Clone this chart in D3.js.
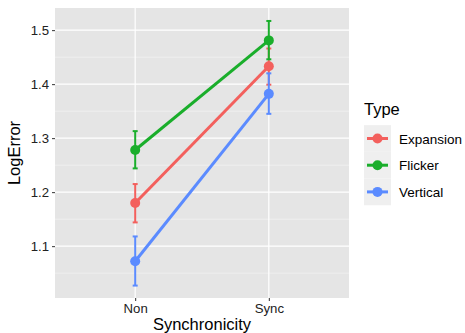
<!DOCTYPE html>
<html>
<head>
<meta charset="utf-8">
<script src="https://cdn.jsdelivr.net/npm/d3@7"></script>
<style>
  body { margin: 0; background: #fff; }
  text { font-family: "Liberation Sans", Arial, sans-serif; }
</style>
</head>
<body>
<div id="chart"></div>
<script>
// Data
const conditions = ['Non', 'Sync'];
const types = ['Expansion', 'Flicker', 'Vertical'];
const colors = ['#F3605D', '#1AAE2B', '#5B8BFF'];
const means = [[1.180, 1.433], [1.278, 1.481], [1.072, 1.382]];
const lower = [[1.144, 1.399], [1.244, 1.446], [1.027, 1.345]];
const upper = [[1.215, 1.466], [1.313, 1.517], [1.118, 1.420]];
const yTicks = [1.1, 1.2, 1.3, 1.4, 1.5];
const yMinor = [1.05, 1.15, 1.25, 1.35, 1.45];

const W = 465, H = 333;
const panel = {left: 55, right: 349, top: 8, bottom: 298};
const pw = panel.right - panel.left;

let svg = d3.select('#chart').append('svg')
    .attr('width', W)
    .attr('height', H);

// Scales (discrete x with ggplot's 0.6 expansion on each side)
let xScale = d3.scalePoint()
    .domain(conditions)
    .range([panel.left + 0.6 / 2.2 * pw, panel.left + 1.6 / 2.2 * pw]);

let yScale = d3.scaleLinear()
    .domain([1.004, 1.541])
    .range([panel.bottom, panel.top]);

// Panel background
svg.append('rect')
    .attr('x', panel.left)
    .attr('y', panel.top)
    .attr('width', pw)
    .attr('height', panel.bottom - panel.top)
    .attr('fill', '#E5E5E5');

// Grid lines
svg.selectAll('.minor').data(yMinor).enter().append('line')
    .attr('x1', panel.left).attr('x2', panel.right)
    .attr('y1', d => yScale(d)).attr('y2', d => yScale(d))
    .attr('stroke', '#F5F5F5').attr('stroke-width', 0.6);

svg.selectAll('.major').data(yTicks).enter().append('line')
    .attr('x1', panel.left).attr('x2', panel.right)
    .attr('y1', d => yScale(d)).attr('y2', d => yScale(d))
    .attr('stroke', '#fff').attr('stroke-width', 1.2);

svg.selectAll('.vmajor').data(conditions).enter().append('line')
    .attr('x1', d => xScale(d)).attr('x2', d => xScale(d))
    .attr('y1', panel.top).attr('y2', panel.bottom)
    .attr('stroke', '#fff').attr('stroke-width', 1.2);

// Axes
let yAxis = svg.append('g')
    .attr('transform', `translate(${panel.left},0)`)
    .call(d3.axisLeft(yScale).tickValues(yTicks).tickSize(3).tickPadding(3).tickFormat(d3.format('.1f')));
let xAxis = svg.append('g')
    .attr('transform', `translate(0,${panel.bottom})`)
    .call(d3.axisBottom(xScale).tickSize(3).tickPadding(3));

[yAxis, xAxis].forEach(ax => {
    ax.select('.domain').remove();
    ax.selectAll('line').attr('stroke', '#333').attr('stroke-width', 1);
    ax.selectAll('text').attr('fill', '#222').attr('font-size', '13.2px')
        .attr('font-family', '"Liberation Sans", Arial, sans-serif');
});

// Axis titles
svg.append('text')
    .attr('x', (panel.left + panel.right) / 2)
    .attr('y', 330)
    .attr('text-anchor', 'middle')
    .attr('font-size', '16.5px')
    .attr('fill', '#000')
    .text('Synchronicity');

svg.append('text')
    .attr('transform', `translate(20,${(panel.top + panel.bottom) / 2}) rotate(-90)`)
    .attr('text-anchor', 'middle')
    .attr('font-size', '16.5px')
    .attr('fill', '#000')
    .text('LogError');

// Lines, error bars, points
let line = d3.line()
    .x((d, i) => xScale(conditions[i]))
    .y(d => yScale(d));

for (let t = 0; t < types.length; t++) {
    let g = svg.append('g');
    // error bars
    conditions.forEach((c, i) => {
        let x = xScale(c);
        g.append('line')
            .attr('x1', x).attr('x2', x)
            .attr('y1', yScale(lower[t][i])).attr('y2', yScale(upper[t][i]))
            .attr('stroke', colors[t]).attr('stroke-width', 2);
        [lower[t][i], upper[t][i]].forEach(v => {
            g.append('line')
                .attr('x1', x - 2.5).attr('x2', x + 2.5)
                .attr('y1', yScale(v)).attr('y2', yScale(v))
                .attr('stroke', colors[t]).attr('stroke-width', 2);
        });
    });
    g.append('path')
        .datum(means[t])
        .attr('d', line)
        .attr('fill', 'none')
        .attr('stroke', colors[t])
        .attr('stroke-width', 3);
    g.selectAll('circle').data(means[t]).enter().append('circle')
        .attr('cx', (d, i) => xScale(conditions[i]))
        .attr('cy', d => yScale(d))
        .attr('r', 5)
        .attr('fill', colors[t]);
}

// Legend
let legend = svg.append('g');
legend.append('text')
    .attr('x', 364)
    .attr('y', 115)
    .attr('font-size', '16.5px')
    .attr('fill', '#000')
    .text('Type');

types.forEach((t, i) => {
    let cy = 138.5 + i * 26.7;
    legend.append('rect')
        .attr('x', 364).attr('y', cy - 13.35)
        .attr('width', 27).attr('height', 26.7)
        .attr('fill', '#EFEFEF');
    legend.append('line')
        .attr('x1', 367).attr('x2', 388)
        .attr('y1', cy).attr('y2', cy)
        .attr('stroke', colors[i]).attr('stroke-width', 3);
    legend.append('circle')
        .attr('cx', 377.5).attr('cy', cy).attr('r', 5)
        .attr('fill', colors[i]);
    legend.append('text')
        .attr('x', 399)
        .attr('y', cy + 5)
        .attr('font-size', '13.5px')
        .attr('fill', '#000')
        .text(t);
});
</script>
</body>
</html>
